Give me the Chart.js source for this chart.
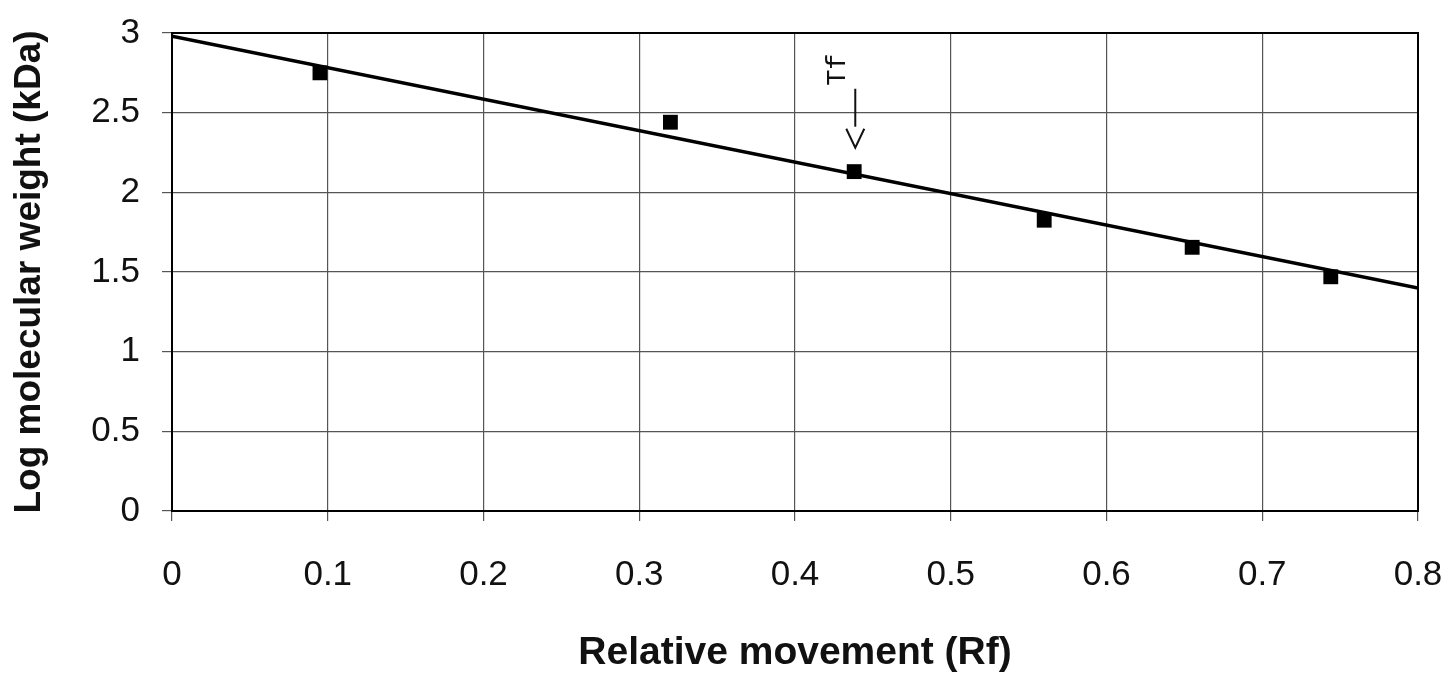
<!DOCTYPE html>
<html>
<head>
<meta charset="utf-8">
<script src="https://cdn.jsdelivr.net/npm/chart.js@4.4.0/dist/chart.umd.min.js"></script>
<style>
html,body{margin:0;padding:0;background:#fff;}
#wrap{width:1454px;height:673px;position:relative;}
</style>
</head>
<body>
<div id="wrap"><canvas id="c" width="1454" height="673"></canvas></div>
<script>
// Data
const rfValues = [0.095, 0.32, 0.438, 0.56, 0.655, 0.744];
const logMW = [2.75, 2.44, 2.13, 1.825, 1.655, 1.47];
const trendX = [0, 0.8];
const trendY = [2.98, 1.4];
const xTicks = [0, 0.1, 0.2, 0.3, 0.4, 0.5, 0.6, 0.7, 0.8];
const yTicks = [0, 0.5, 1, 1.5, 2, 2.5, 3];
const annotLabel = 'Tf';
const annotX = [0.4277, 0.4387];    // label x, arrow x
const annotY = [2.77, 2.65, 2.28];  // label centre, arrow top, arrow tip

const pointsData = rfValues.map((x, i) => ({x: x, y: logMW[i]}));
const trendData = trendX.map((x, i) => ({x: x, y: trendY[i]}));

const annotPlugin = {
  id: 'tfAnnot',
  afterDatasetsDraw(chart) {
    const xs = chart.scales.x, ys = chart.scales.y, ctx = chart.ctx;
    const lx = xs.getPixelForValue(annotX[0]);
    const ax = xs.getPixelForValue(annotX[1]);
    const ly = ys.getPixelForValue(annotY[0]);
    const at = ys.getPixelForValue(annotY[1]);
    const ab = ys.getPixelForValue(annotY[2]);
    ctx.save();
    ctx.fillStyle = '#111';
    ctx.font = '27px "Liberation Mono", "DejaVu Sans Mono", monospace';
    ctx.translate(lx, ly);
    ctx.rotate(-Math.PI / 2);
    ctx.textAlign = 'center';
    ctx.textBaseline = 'middle';
    ctx.fillText(annotLabel, 0, 0);
    ctx.restore();
    ctx.save();
    ctx.strokeStyle = '#111';
    ctx.lineWidth = 2;
    ctx.beginPath();
    ctx.moveTo(ax, at);
    ctx.lineTo(ax, ab - 21);
    ctx.stroke();
    ctx.beginPath();
    ctx.moveTo(ax - 9, ab - 19);
    ctx.lineTo(ax, ab);
    ctx.lineTo(ax + 9, ab - 19);
    ctx.stroke();
    ctx.restore();
  }
};

new Chart(document.getElementById('c'), {
  type: 'scatter',
  data: {
    datasets: [
      {
        label: 'Trend',
        data: trendData,
        showLine: true,
        borderColor: '#000',
        borderWidth: 3.5,
        pointRadius: 0,
        fill: false
      },
      {
        label: 'Markers',
        data: pointsData,
        pointStyle: 'rect',
        pointRadius: 10.5,
        backgroundColor: '#000',
        borderColor: '#000',
        borderWidth: 0
      }
    ]
  },
  options: {
    responsive: false,
    animation: false,
    devicePixelRatio: 1,
    layout: {padding: {top: 33, right: 36, left: 0, bottom: 0}},
    plugins: {legend: {display: false}, tooltip: {enabled: false}},
    scales: {
      x: {
        type: 'linear',
        min: 0, max: 0.8,
        afterBuildTicks: s => { s.ticks = xTicks.map(v => ({value: v})); },
        afterFit: s => { s.height = 162; s.paddingLeft = 0; s.paddingRight = 0; },
        border: {display: true, color: '#000', width: 2},
        grid: {color: '#555', lineWidth: 1.2, tickLength: 10, drawTicks: true, tickColor: '#555'},
        ticks: {
          color: '#111',
          font: {family: '"Liberation Sans", Arial, sans-serif', size: 35},
          padding: 33,
          maxRotation: 0,
          callback: v => String(v)
        },
        title: {
          display: true,
          text: 'Relative movement (Rf)',
          color: '#111',
          font: {family: '"Liberation Sans", Arial, sans-serif', size: 39, weight: 'bold', lineHeight: 1.0},
          padding: {top: 0, bottom: 0}
        }
      },
      y: {
        type: 'linear',
        min: 0, max: 3,
        afterBuildTicks: s => { s.ticks = yTicks.map(v => ({value: v})); },
        afterFit: s => { s.width = 172; s.paddingTop = 0; s.paddingBottom = 0; },
        border: {display: true, color: '#000', width: 2},
        grid: {color: '#555', lineWidth: 1.2, tickLength: 10, drawTicks: true, tickColor: '#555'},
        ticks: {
          color: '#111',
          font: {family: '"Liberation Sans", Arial, sans-serif', size: 35},
          padding: 22,
          callback: v => String(v)
        },
        title: {
          display: true,
          text: 'Log molecular weight (kDa)',
          color: '#111',
          font: {family: '"Liberation Sans", Arial, sans-serif', size: 37, weight: 'bold'},
          padding: {top: 8, bottom: 0}
        }
      }
    }
  },
  plugins: [annotPlugin, {
    id: 'frame',
    afterDraw(chart) {
      const a = chart.chartArea, ctx = chart.ctx;
      ctx.save();
      ctx.strokeStyle = '#000';
      ctx.lineWidth = 2;
      ctx.strokeRect(a.left, a.top, a.right - a.left, a.bottom - a.top);
      ctx.restore();
    }
  }]
});
</script>
</body>
</html>
